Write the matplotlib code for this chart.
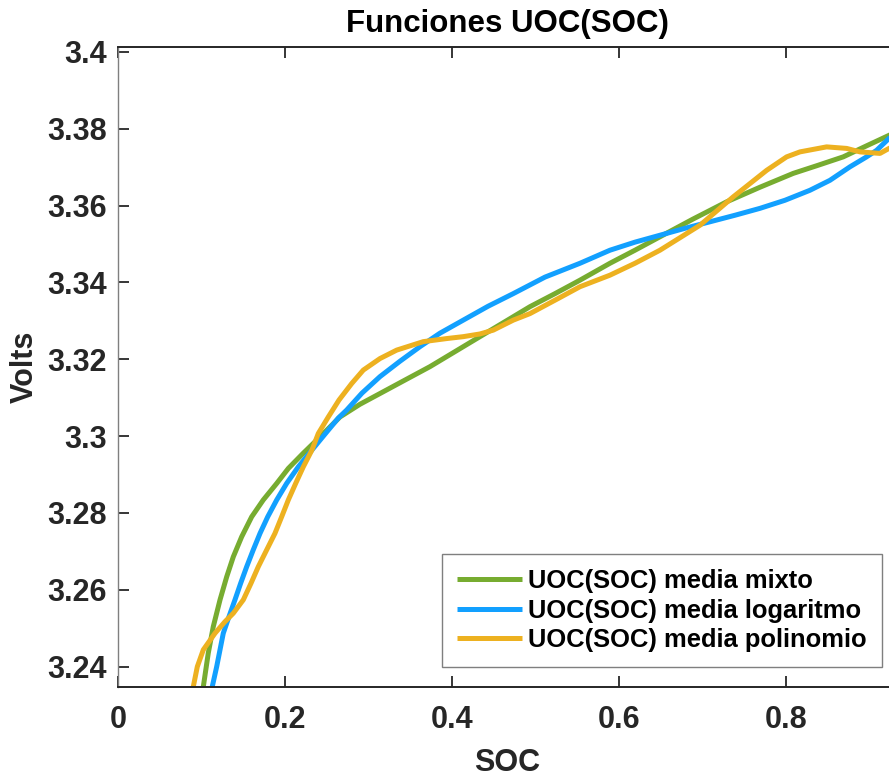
import matplotlib
matplotlib.use("Agg")
import matplotlib.pyplot as plt
from matplotlib.ticker import FuncFormatter

plt.rcParams["font.family"] = ["Liberation Sans", "DejaVu Sans"]
plt.rcParams["font.weight"] = "bold"

# values
soc_mixto = [0.1022, 0.1081, 0.1141, 0.1222, 0.1302, 0.1381, 0.1481, 0.1601, 0.1740,
             0.1901, 0.2040, 0.2216, 0.2419, 0.2659, 0.2898, 0.3138, 0.3437, 0.3737,
             0.4036, 0.4335, 0.4635, 0.4934, 0.5234, 0.5533, 0.5892, 0.6192, 0.6491,
             0.6886, 0.7290, 0.7689, 0.8087, 0.8383, 0.8686, 0.8958, 0.9234, 0.9330]
uoc_mixto = [3.2348, 3.2435, 3.2504, 3.2574, 3.2634, 3.2686, 3.2738, 3.2790, 3.2834,
             3.2877, 3.2916, 3.2955, 3.2998, 3.3050, 3.3083, 3.3111, 3.3146, 3.3181,
             3.3220, 3.3259, 3.3298, 3.3337, 3.3371, 3.3406, 3.3450, 3.3484, 3.3519,
             3.3565, 3.3610, 3.3648, 3.3684, 3.3705, 3.3727, 3.3755, 3.3783, 3.3793]

soc_log = [0.1129, 0.1182, 0.1261, 0.1329, 0.1401, 0.1469, 0.1541, 0.1620, 0.1701,
           0.1793, 0.1901, 0.2020, 0.2159, 0.2323, 0.2459, 0.2638, 0.2739, 0.2922,
           0.3138, 0.3377, 0.3617, 0.3856, 0.4135, 0.4431, 0.4734, 0.5114, 0.5533,
           0.5892, 0.6192, 0.6491, 0.6790, 0.7090, 0.7389, 0.7689, 0.7988, 0.8287,
           0.8527, 0.8766, 0.8958, 0.9086, 0.9234, 0.9330]
uoc_log = [3.2348, 3.2400, 3.2487, 3.2530, 3.2574, 3.2617, 3.2660, 3.2704, 3.2747,
           3.2790, 3.2834, 3.2877, 3.2920, 3.2964, 3.3000, 3.3047, 3.3068, 3.3112,
           3.3155, 3.3195, 3.3233, 3.3268, 3.3302, 3.3338, 3.3371, 3.3414, 3.3450,
           3.3484, 3.3505, 3.3523, 3.3541, 3.3558, 3.3575, 3.3593, 3.3614, 3.3640,
           3.3666, 3.3701, 3.3726, 3.3744, 3.3775, 3.3800]

soc_pol = [0.0902, 0.0950, 0.1022, 0.1162, 0.1281, 0.1381, 0.1501, 0.1593, 0.1680,
           0.1781, 0.1880, 0.1960, 0.2040, 0.2128, 0.2219, 0.2323, 0.2399, 0.2519,
           0.2647, 0.2799, 0.2938, 0.3138, 0.3338, 0.3656, 0.3936, 0.4135, 0.4335,
           0.4495, 0.4734, 0.4934, 0.5269, 0.5533, 0.5892, 0.6192, 0.6491, 0.6970,
           0.7369, 0.7769, 0.8008, 0.8168, 0.8487, 0.8727, 0.8886, 0.9126, 0.9234,
           0.9330]
uoc_pol = [3.2348, 3.2400, 3.2444, 3.2487, 3.2517, 3.2539, 3.2574, 3.2617, 3.2660,
           3.2704, 3.2747, 3.2790, 3.2834, 3.2877, 3.2920, 3.2964, 3.3007, 3.3050,
           3.3094, 3.3137, 3.3172, 3.3202, 3.3224, 3.3246, 3.3254, 3.3259, 3.3266,
           3.3276, 3.3302, 3.3319, 3.3358, 3.3389, 3.3419, 3.3450, 3.3484, 3.3549,
           3.3623, 3.3692, 3.3727, 3.3740, 3.3753, 3.3749, 3.3740, 3.3736, 3.3749,
           3.3758]

labels = ["UOC(SOC) media mixto", "UOC(SOC) media logaritmo", "UOC(SOC) media polinomio"]
colors = ["#77AC30", "#12A0FF", "#EDB120"]

fig = plt.figure(figsize=(8.89, 7.78), dpi=100)
W, H = 889, 778
ax = fig.add_axes([118 / W, (H - 687) / H, 779 / W, 640 / H])

for xs, ys, c, lab in [(soc_mixto, uoc_mixto, colors[0], labels[0]),
                       (soc_log, uoc_log, colors[1], labels[1]),
                       (soc_pol, uoc_pol, colors[2], labels[2])]:
    ax.plot(xs, ys, color=c, lw=3.6, label=lab, solid_joinstyle="round",
            solid_capstyle="butt")

ax.set_xlim(0, 0.933)
ax.set_ylim(3.2347, 3.4013)
ax.set_xticks([0, 0.2, 0.4, 0.6, 0.8])
ax.set_yticks([3.24, 3.26, 3.28, 3.30, 3.32, 3.34, 3.36, 3.38, 3.40])
fmt = FuncFormatter(lambda v, p: f"{v:g}")
ax.xaxis.set_major_formatter(fmt)
ax.yaxis.set_major_formatter(fmt)

ax.tick_params(axis="both", direction="in", length=8, width=1.3, colors="#262626",
               labelsize=22, top=True, right=False)
ax.tick_params(axis="x", pad=13)
ax.tick_params(axis="y", pad=8)
for lab in ax.get_xticklabels() + ax.get_yticklabels():
    lab.set_fontweight("bold")

for s in ["top", "bottom"]:
    ax.spines[s].set_color("#262626")
    ax.spines[s].set_linewidth(1.4)
ax.spines["left"].set_color("#7f7f7f")
ax.spines["left"].set_linewidth(1.0)
ax.spines["right"].set_visible(False)

ax.set_title("Funciones UOC(SOC)", fontsize=22.5, fontweight="bold", color="black", pad=11)
ax.set_xlabel("SOC", fontsize=22, fontweight="bold", color="#262626", labelpad=9)
ax.set_ylabel("Volts", fontsize=22, fontweight="bold", color="#262626", labelpad=5)

leg = ax.legend(loc="lower right", bbox_to_anchor=(0.9807, 0.0313), borderaxespad=0,
                handlelength=2.55, handletextpad=0.23, labelspacing=0.2,
                borderpad=0.6, fancybox=False, framealpha=1, edgecolor="#7f7f7f",
                prop={"weight": "bold", "size": 18.4})
leg.get_frame().set_linewidth(1.0)

fig.savefig("out.png", dpi=100)
